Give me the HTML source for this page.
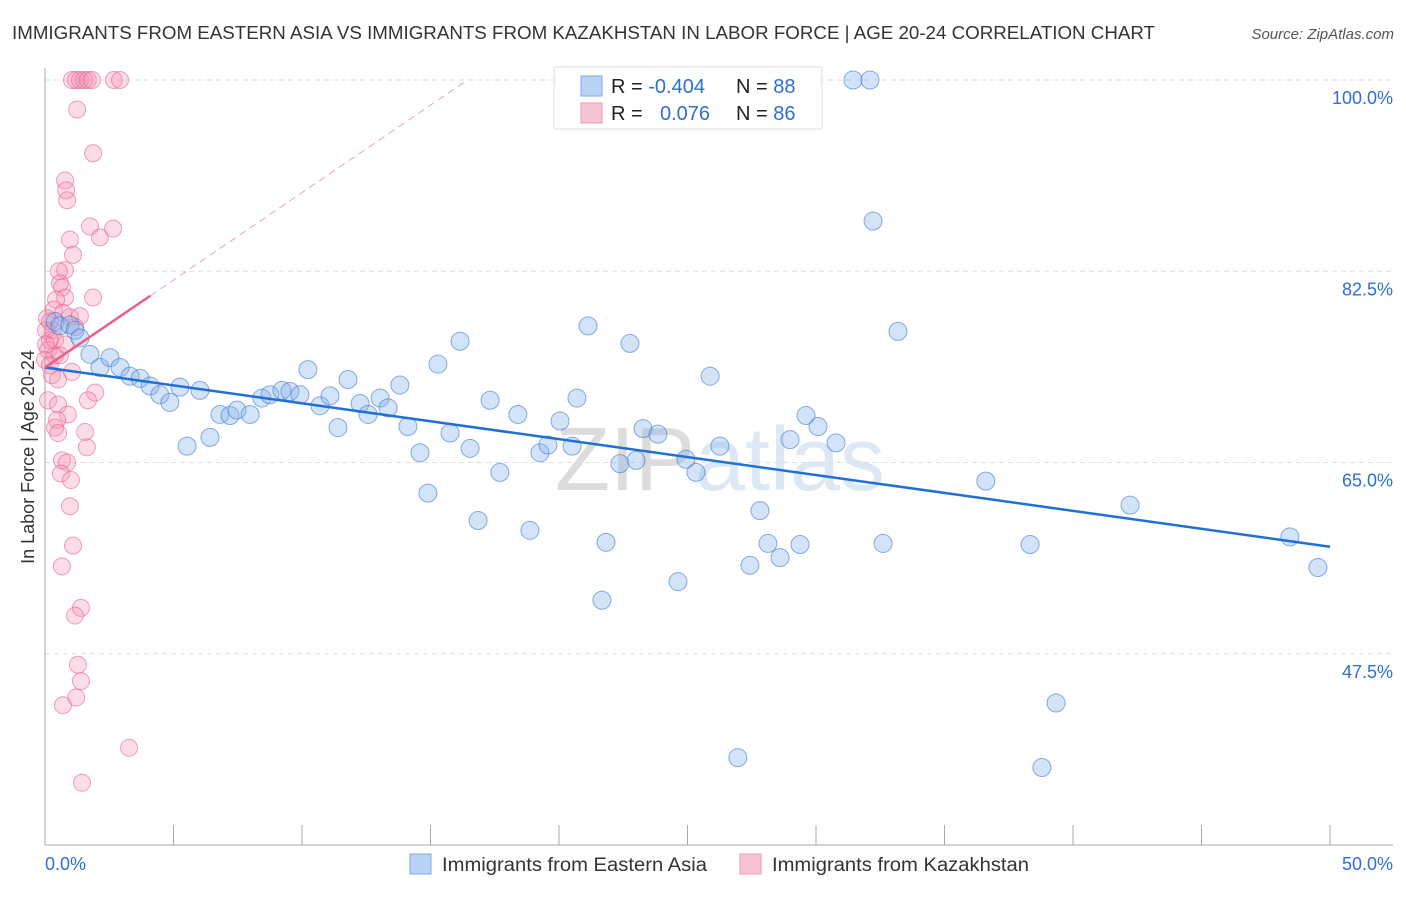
<!DOCTYPE html>
<html><head><meta charset="utf-8"><style>
body{margin:0;background:#fff;font-family:"Liberation Sans",sans-serif}
svg text{font-family:"Liberation Sans",sans-serif}
</style></head><body>
<svg id="chart" width="1406" height="892" xmlns="http://www.w3.org/2000/svg">
<text x="12" y="39" font-size="18" fill="#333" textLength="1143" lengthAdjust="spacingAndGlyphs">IMMIGRANTS FROM EASTERN ASIA VS IMMIGRANTS FROM KAZAKHSTAN IN LABOR FORCE | AGE 20-24 CORRELATION CHART</text>
<text x="1394" y="39" font-size="15" fill="#555" text-anchor="end" font-style="italic">Source: ZipAtlas.com</text>
<text x="720" y="490" font-size="90" fill="#e6e6e6" text-anchor="middle" font-family="Liberation Serif"><tspan fill="#dcdcdc">ZIP</tspan><tspan fill="#dde8f5" font-family="Liberation Sans">atlas</tspan></text>
<g id="grid"></g>
<g id="axes"></g>
<g id="pinkPts"></g>
<g id="bluePts"></g>
<g id="lines"></g>
<text transform="translate(34,457) rotate(-90)" font-size="18" fill="#333" text-anchor="middle">In Labor Force | Age 20-24</text>
<g>
<rect x="554" y="67" width="268" height="62" fill="#fff" stroke="#ddd"/>
<rect x="581" y="76" width="21" height="20" fill="#b9d3f5" stroke="#7fa9e6"/>
<rect x="581" y="103" width="21" height="20" fill="#f8c3d2" stroke="#ee9ab4"/>
<text x="611" y="93" font-size="20" fill="#222">R = <tspan fill="#2f6fd0">-0.404</tspan></text>
<text x="736" y="93" font-size="20" fill="#222">N = <tspan fill="#2f6fd0">88</tspan></text>
<text x="611" y="120" font-size="20" fill="#222">R = <tspan fill="#2f6fd0" x="660">0.076</tspan></text>
<text x="736" y="120" font-size="20" fill="#222">N = <tspan fill="#2f6fd0">86</tspan></text>
</g>
<g>
<rect x="410" y="854" width="21" height="20" fill="#b9d3f5" stroke="#7fa9e6"/>
<text x="442" y="871" font-size="19" fill="#333" textLength="265" lengthAdjust="spacingAndGlyphs">Immigrants from Eastern Asia</text>
<rect x="740" y="854" width="21" height="20" fill="#f8c3d2" stroke="#ee9ab4"/>
<text x="772" y="871" font-size="19" fill="#333" textLength="257" lengthAdjust="spacingAndGlyphs">Immigrants from Kazakhstan</text>
</g>
</svg>
<script>
const yTicks=[100,82.5,65,47.5];
const yTickLabels=["100.0%","82.5%","65.0%","47.5%"];
const xTickLabels=["0.0%","50.0%"];
const blueX=[0.39,0.58,0.97,1.17,1.36,1.75,2.14,2.53,2.92,3.31,3.70,4.09,4.47,4.86,5.25,5.53,6.03,6.42,6.81,7.20,7.47,7.98,8.44,8.75,9.22,9.53,9.92,10.23,10.70,11.09,11.40,11.79,12.26,12.57,13.04,13.35,13.81,14.12,14.59,14.90,15.29,15.76,16.15,16.54,16.85,17.32,17.70,18.40,18.87,19.26,19.57,20.04,20.51,20.70,21.13,21.67,21.83,22.37,22.76,23.00,23.27,23.85,24.63,24.94,25.33,25.88,26.26,27.43,27.82,28.13,28.60,28.99,29.38,29.61,30.08,30.78,31.44,32.10,32.22,32.61,33.19,36.61,38.33,42.22,48.44,49.53,26.96,38.79,39.34];
const blueY=[77.9,77.5,77.6,77.1,76.4,74.9,73.7,74.6,73.7,72.9,72.7,72.0,71.2,70.5,71.9,66.5,71.6,67.3,69.4,69.3,69.8,69.4,70.9,71.2,71.6,71.5,71.2,73.5,70.2,71.1,68.2,72.6,70.4,69.4,70.9,70.0,72.1,68.3,65.9,62.2,74.0,67.7,76.1,66.3,59.7,70.7,64.1,69.4,58.8,65.9,66.6,68.8,66.5,70.9,77.5,52.4,57.7,64.9,75.9,65.2,68.1,67.6,54.1,65.3,64.1,72.9,66.5,55.6,60.6,57.6,56.3,67.1,57.5,69.3,68.3,66.8,100,100,87.1,57.6,77.0,63.3,57.5,61.1,58.2,55.4,38.0,37.1,43.0];
const pinkX=[1.05,1.21,1.36,1.52,1.67,1.83,2.68,2.92,1.25,1.87,0.78,0.82,0.86,1.75,2.14,2.65,0.97,1.09,0.78,0.54,0.58,0.66,0.78,1.87,0.43,0.35,0.70,0.97,1.36,1.17,0.31,0.19,0.12,0.39,0,0.19,0.27,0.51,1.05,1.95,1.67,0.12,0.51,0.89,0.47,0.39,0.51,1.56,1.63,0.66,0.86,0.62,1.01,0.97,1.09,0.66,1.40,1.17,1.28,1.40,1.21,0.70,3.27,1.44,0.08,0.04,0.19,0.39,0.04,0.58,0.78];
const pinkY=[100,100,100,100,100,100,100,100,97.3,93.3,90.8,89.9,89.0,86.6,85.6,86.4,85.4,84.0,82.6,82.5,81.4,81.0,80.1,80.1,79.9,79.0,78.7,78.3,78.4,77.4,77.1,76.2,75.3,74.8,74.4,73.9,73.0,72.6,73.3,71.4,70.7,70.7,70.3,69.4,68.9,68.2,67.7,67.8,66.4,65.2,65.0,64.0,63.4,61.0,57.4,55.5,51.7,51.0,46.5,45.0,43.5,42.8,38.9,35.7,78.2,77.1,77.9,76.2,75.8,74.8,75.8];
const blueTrend=[73.7,57.3];
const pinkTrend=[73.7,1.6];
const X=v=>45+v*25.7, Y=v=>80+(100-v)*10.93;
const NS="http://www.w3.org/2000/svg";
function mk(p,t,a){const e=document.createElementNS(NS,t);for(const k in a)e.setAttribute(k,a[k]);p.appendChild(e);return e;}
const grid=document.getElementById('grid'),axes=document.getElementById('axes');
yTicks.forEach((v,i)=>{
 const l=mk(grid,'line',{x1:45,x2:1393,y1:Y(v),y2:Y(v),stroke:'#ddd','stroke-dasharray':'5,4'});
 
 
 const t=mk(grid,'text',{x:1393,y:Y(v)+24,'font-size':18,fill:'#2f6fd0','text-anchor':'end'});
 t.textContent=yTickLabels[i];
 
 
});
mk(axes,'line',{x1:45,x2:45,y1:68,y2:845,stroke:'#aaa'});
mk(axes,'line',{x1:45,x2:1393,y1:845,y2:845,stroke:'#aaa'});
for(let i=0;i<=10;i++){const tk=mk(axes,'line',{x1:X(i*5),x2:X(i*5),y1:825,y2:845,stroke:'#aaa'});
 
 }
[[0,45,'start'],[50,1393,'end']].forEach((d,i)=>{const t=mk(axes,'text',{x:d[1],y:870,'font-size':18,fill:'#2f6fd0','text-anchor':d[2]});t.textContent=xTickLabels[i];
 
 });
const pg=document.getElementById('pinkPts');
pinkX.forEach((x,i)=>{const c=mk(pg,'circle',{cx:X(x),cy:Y(pinkY[i]),r:8.5,fill:'rgba(244,143,177,0.3)',stroke:'rgba(230,100,140,0.6)','stroke-width':1});
 
 });
const bg=document.getElementById('bluePts');
blueX.forEach((x,i)=>{const c=mk(bg,'circle',{cx:X(x),cy:Y(blueY[i]),r:9,fill:'rgba(130,175,235,0.35)',stroke:'rgba(60,120,210,0.6)','stroke-width':1});
 
 });
const lg=document.getElementById('lines');
const bl=mk(lg,'line',{x1:X(0),y1:Y(blueTrend[0]),x2:X(50),y2:Y(blueTrend[1]),stroke:'#1f6fd6','stroke-width':2.5});


const pEnd=(100-pinkTrend[0])/pinkTrend[1];
const pd=mk(lg,'line',{x1:X(4.1),y1:Y(pinkTrend[0]+4.1*pinkTrend[1]),x2:X(pEnd),y2:Y(100),stroke:'#f0a0b8','stroke-width':1,'stroke-dasharray':'7,5'});


const pl=mk(lg,'line',{x1:X(0),y1:Y(pinkTrend[0]),x2:X(4.1),y2:Y(pinkTrend[0]+4.1*pinkTrend[1]),stroke:'#e8608a','stroke-width':2.5});


</script>
</body></html>
